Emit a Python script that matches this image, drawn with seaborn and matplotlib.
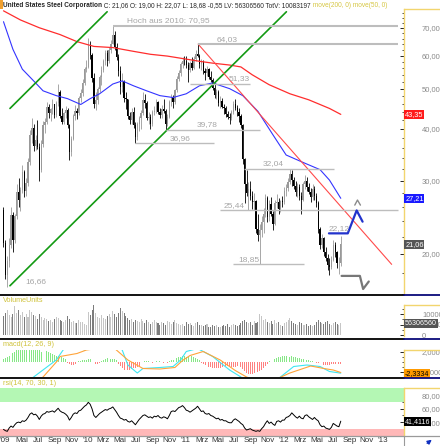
import numpy as np
import pandas as pd
import matplotlib
matplotlib.use("Agg")
import matplotlib.pyplot as plt
import matplotlib.transforms as mtransforms
from matplotlib.lines import Line2D
from matplotlib.patches import Rectangle
from matplotlib.ticker import NullFormatter
import seaborn as sns

sns.set_style("white")
plt.rcParams["font.family"] = ["Liberation Sans", "DejaVu Sans"]

# weekly candles United States Steel, Feb 2009 - Jul 2012
first_open = 25.5
closes = [
    21.2, 17.8, 19.2, 21.0, 24.8, 21.6, 24.6, 28.2, 27.0, 28.5,
    31.5, 28.4, 29.6, 33.2, 38.6, 40.2, 36.4, 37.6, 36.2, 31.8,
    36.8, 40.8, 41.6, 45.2, 43.6, 44.6, 45.8, 43.2, 46.2, 49.0,
    43.0, 41.6, 43.6, 44.5, 40.8, 35.2, 37.8, 43.0, 44.2, 43.6,
    47.4, 48.8, 51.5, 55.8, 56.5, 63.5, 60.2, 53.0, 46.0, 47.0,
    49.8, 53.2, 55.4, 58.2, 60.8, 58.4, 61.8, 64.2, 67.5, 63.0,
    59.5, 55.0, 50.5, 52.2, 47.6, 47.2, 43.0, 42.0, 44.0, 40.8,
    38.2, 41.0, 42.4, 43.8, 47.0, 46.2, 42.6, 42.8, 41.2, 44.0,
    44.2, 46.4, 44.0, 43.2, 44.6, 44.2, 41.2, 42.8, 46.5, 47.8,
    46.4, 49.6, 52.8, 54.6, 57.4, 58.4, 58.2, 57.0, 55.4, 57.6,
    56.2, 59.0, 60.6, 60.0, 57.2, 58.0, 55.0, 54.6, 55.8, 53.4,
    52.6, 50.2, 48.2, 49.0, 46.2, 46.8, 45.2, 45.0, 43.4, 42.8,
    42.4, 44.0, 46.0, 45.0, 44.0, 43.0, 40.8, 33.8, 29.5, 28.0,
    28.6, 27.6, 26.6, 26.8, 23.0, 22.2, 22.8, 23.8, 25.0, 27.2,
    24.5, 26.4, 25.0, 23.6, 26.5, 26.6, 25.6, 26.8, 26.6, 28.4,
    28.8, 29.8, 31.2, 30.2, 29.2, 28.2, 29.0, 27.6, 27.0, 29.4,
    30.0, 29.0, 28.2, 27.4, 28.6, 27.5, 26.5, 23.0, 21.0, 21.8,
    20.2, 19.5, 18.8, 18.6, 19.3, 21.0, 20.2, 19.0, 19.0, 21.06,
]
highs = [
    26.0, 21.6, 19.8, 21.8, 25.9, 25.2, 25.0, 29.4, 30.5, 29.0,
    32.7, 31.8, 30.5, 34.0, 39.7, 42.4, 41.0, 38.6, 42.0, 37.0,
    37.5, 41.7, 42.5, 46.5, 46.0, 45.0, 47.3, 46.0, 46.8, 51.3,
    49.5, 44.8, 44.0, 45.5, 44.8, 41.2, 38.5, 43.5, 45.6, 45.0,
    48.0, 50.0, 52.8, 56.5, 58.5, 66.3, 65.0, 61.0, 54.5, 49.0,
    50.5, 54.0, 56.6, 59.0, 62.0, 61.8, 63.0, 65.6, 70.95, 69.0,
    64.5, 60.5, 56.6, 54.5, 52.5, 49.0, 47.3, 44.0, 44.8, 45.2,
    41.5, 41.5, 43.0, 44.5, 49.0, 48.5, 46.8, 44.0, 43.5, 44.5,
    45.5, 47.3, 46.8, 45.0, 45.6, 47.3, 44.6, 43.5, 47.0, 48.5,
    48.2, 50.0, 53.5, 55.5, 58.0, 59.5, 60.0, 60.0, 58.0, 58.2,
    59.5, 59.8, 62.0, 64.03, 60.5, 58.8, 58.6, 56.0, 56.6, 56.2,
    55.0, 53.0, 51.5, 50.0, 49.5, 48.0, 47.5, 46.0, 45.3, 44.2,
    43.8, 44.5, 46.6, 47.3, 45.6, 45.0, 43.5, 41.0, 34.0, 31.8,
    29.8, 30.0, 28.4, 28.0, 27.0, 24.9, 23.6, 24.6, 25.8, 27.8,
    27.6, 27.0, 27.4, 25.4, 27.0, 27.8, 27.2, 27.0, 27.5, 28.9,
    29.4, 30.4, 32.04, 31.8, 30.6, 29.9, 29.6, 29.4, 28.2, 29.8,
    31.0, 30.6, 29.6, 28.8, 29.4, 29.2, 28.0, 26.8, 23.2, 22.3,
    22.0, 20.8, 20.0, 19.5, 19.8, 21.6, 21.3, 20.3, 19.7, 22.07,
]
lows = [
    20.8, 17.4, 16.66, 18.6, 20.6, 20.2, 21.2, 24.2, 26.0, 25.3,
    28.0, 27.4, 27.6, 29.2, 32.8, 37.0, 35.4, 35.6, 35.8, 30.0,
    31.5, 36.2, 39.0, 41.2, 42.4, 41.8, 43.5, 42.4, 42.8, 45.5,
    42.5, 41.0, 41.0, 42.6, 40.2, 33.6, 34.4, 37.5, 42.0, 42.2,
    43.2, 46.5, 48.0, 51.0, 54.8, 56.0, 59.0, 52.0, 44.8, 44.5,
    45.8, 49.0, 51.0, 54.8, 57.0, 56.6, 57.8, 61.0, 63.9, 62.0,
    58.5, 53.5, 48.5, 49.0, 46.5, 44.6, 42.2, 41.0, 41.2, 40.2,
    36.96, 37.5, 39.5, 40.0, 43.2, 45.0, 42.0, 41.0, 40.0, 40.6,
    43.2, 43.8, 43.5, 42.5, 42.6, 43.8, 39.78, 40.6, 42.5, 45.5,
    45.0, 46.0, 49.0, 52.2, 53.5, 56.0, 57.0, 56.2, 52.0, 54.8,
    55.5, 55.8, 58.2, 59.5, 56.0, 55.5, 54.2, 52.5, 53.5, 52.8,
    52.0, 49.5, 47.5, 47.3, 45.5, 45.0, 44.8, 43.5, 42.8, 42.2,
    41.0, 42.0, 43.5, 44.5, 43.0, 41.5, 40.2, 33.0, 26.5, 27.5,
    25.44, 27.0, 25.6, 25.5, 22.4, 21.5, 18.85, 22.0, 22.5, 24.5,
    23.8, 24.0, 24.6, 22.8, 23.5, 25.8, 25.0, 25.2, 26.0, 26.3,
    27.6, 28.4, 29.5, 29.2, 28.6, 27.6, 27.4, 27.0, 25.0, 26.8,
    28.6, 28.4, 27.8, 26.6, 27.0, 27.0, 26.0, 22.5, 20.5, 20.6,
    19.8, 19.2, 18.3, 17.8, 18.4, 19.2, 19.6, 18.5, 17.9, 18.68,
]
# weekly volume in millions of shares
volumes_m = [
    92, 104, 118, 96, 88, 102, 140, 105, 118,
    96, 110, 88, 102, 85, 120, 108, 95, 90, 78,
    98, 84, 72, 80, 74, 66, 70, 62, 75, 88, 82, 70, 68, 64, 72,
    90, 78, 62, 66, 55, 58, 70, 64, 60, 52, 46,
    110, 95, 120, 142, 105, 88, 80,
    96, 82, 74, 90, 98, 85, 112, 100, 88, 106, 128, 115, 104, 92,
    80, 70, 76, 62, 72, 68, 60, 78, 66, 58, 70, 62, 54, 60, 72, 64, 56, 50, 62, 58, 48, 66, 60, 54,
    62, 70, 58, 52, 48, 54, 44,
    60, 52, 56, 48, 44, 58, 62, 50, 46, 42, 48, 54, 40, 38, 46, 44, 50, 40, 36, 42, 48, 45, 52, 40, 46,
    54, 48, 42, 50, 58, 68, 72, 62, 56, 60, 50, 66, 58, 62,
    102, 92, 70, 78, 64, 58, 66, 54, 72,
    56, 60, 48, 44, 58, 62, 70, 80, 68, 58, 52, 48, 62, 55, 50,
    46, 52, 44, 48, 42, 50, 62, 70, 64, 58, 54, 60, 66, 52, 48, 58, 62, 54, 50, 56.3,
]
macd_hist = [
    0.5, 0.8, 1.0, 1.2, 1.5, 1.8,
    2.0, 2.3, 2.6, 2.8, 3.0, 2.9, 2.7, 2.8, 3.0, 3.1, 2.9, 2.6, 2.5, 2.4,
    2.0, 1.9, 2.0, 2.1, 2.0, 1.8, 1.6,
    1.3, 1.2, 1.1, 1.2, 1.0, 0.8, 0.5,
    -0.2, -0.5, -0.7, -0.6, -0.4, -0.2, 0.1,
    0.2, 0.3, 0.3, 0.4, 0.6, 0.5, 0.2,
    -0.3, -0.5, -0.4, -0.2,
    0.2, 0.4, 0.6, 0.7, 0.7, 0.6, 0.5, 0.6, 0.3,
    -0.4, -0.9, -1.3, -1.6, -1.8, -1.7, -1.6, -1.5, -1.3, -1.2, -1.0, -0.8,
    -0.4, -0.2, 0.1, 0.2, 0.1, -0.1, -0.2, -0.1, 0.1, 0.2, 0.1, -0.1, -0.2, -0.1, -0.2, 0.1, 0.3, 0.4,
    0.6, 0.8, 0.9, 1.0, 1.1, 1.1, 1.0, 0.9, 1.0, 1.1, 0.9, 0.8, 0.6, 0.4,
    -0.2, -0.4, -0.6, -0.8, -1.0, -1.1, -1.2, -1.3, -1.2, -1.3, -1.2, -1.1, -1.0, -0.9, -0.8, -0.9,
    -1.0, -1.1, -1.0, -0.8, -0.6,
    -1.0, -1.4, -1.8, -2.2, -2.4, -2.5, -2.4, -2.3, -2.2, -2.1, -1.9, -1.6, -1.2, -0.8, -0.4,
    0.1, 0.3, 0.5, 0.6, 0.8, 0.9, 1.0, 1.1, 1.1, 1.2, 1.1, 1.0, 1.1, 1.0, 0.9, 0.8, 0.7, 0.6,
    0.6, 0.5, 0.4, 0.3, 0.2, 0.1,
    -0.1, -0.2, -0.3, -0.4, -0.5, -0.6, -0.6, -0.7, -0.6, -0.5, -0.5, -0.4, -0.4, -0.5, -0.4,
]
rsi_values = [
    29, 27, 26, 31, 34, 32, 36, 39, 40, 39,
    42, 41, 43, 47, 52, 54, 51, 52, 49, 44,
    49, 52, 53, 56, 55, 56, 57, 55, 58, 61,
    57, 55, 54, 52, 49, 43, 47, 52, 54, 53,
    57, 58, 61, 64, 66, 70, 67, 60, 50, 47,
    50, 53, 55, 57, 59, 58, 60, 61, 63, 59,
    55, 50, 46, 45, 43, 44, 41, 40, 42, 39,
    36, 40, 44, 47, 50, 51, 49, 47, 48, 46,
    49, 48, 50, 47, 46, 48, 47, 45, 50, 56,
    57, 56, 59, 62, 63, 65, 62, 58, 57, 55,
    57, 59, 61, 64, 60, 56, 57, 53, 52, 53,
    50, 49, 47, 45, 46, 43, 44, 42, 42, 40,
    39, 39, 43, 45, 43, 41, 38, 36, 31, 28,
    29, 30, 28, 27, 26, 27, 26, 30, 33, 38,
    42, 38, 40, 37, 35, 41, 42, 40, 43, 43,
    47, 48, 50, 54, 51, 48, 46, 49, 46, 45,
    50, 51, 48, 46, 44, 47, 44, 42, 36, 33,
    34, 31, 30, 29, 32, 38, 36, 34, 33, 41.41,
]
# moving averages and macd lines, read at selected weeks
ma200_week = [0, 9, 19, 30, 39, 48, 58, 69, 78, 87, 94, 104, 111, 120, 126, 132, 141, 152, 162, 173, 179]
ma200_vals = [77.0, 73.2, 70.1, 67.5, 64.9, 63.2, 62.8, 61.5, 60.5, 59.9, 59.2, 58.2, 57.6, 57.0, 56.4,
              54.0, 51.1, 48.6, 47.0, 44.8, 43.35]
ma50_week = [0, 5, 10, 16, 21, 28, 34, 41, 46, 51, 58, 63, 69, 76, 83, 90, 97, 104, 111, 120, 127,
             135, 143, 150, 159, 168, 173, 179]
ma50_vals = [72.5, 62.2, 55.7, 52.2, 49.4, 48.1, 47.3, 45.8, 47.3, 48.6, 51.3, 52.2, 50.8, 49.4, 48.1,
             47.6, 48.6, 50.8, 51.6, 50.0, 48.1, 44.1, 38.7, 34.6, 33.2, 31.9, 30.1, 27.21]
macd_week = [0, 9, 16, 22, 28, 32, 36, 41, 43, 46, 51, 58, 63, 66, 71, 74, 83, 90, 94, 97, 103, 111,
             120, 126, 134, 142, 147, 154, 161, 168, 173, 179]
macd_line = [-6.0, -5.0, -3.1, -1.4, 0.3, 2.5, 3.2, 2.6, 2.3, 3.0, 4.0, 3.5, 2.3, -0.7, -2.3, -1.4,
             -1.2, -1.0, 0.3, 2.0, 2.6, 1.0, -1.7, -3.1, -5.5, -4.5, -3.1, -1.0, -0.7, -1.0, -2.0, -2.33]
signal_week = [0, 9, 21, 29, 30, 39, 44, 50, 55, 59, 66, 74, 83, 91, 95, 99, 106, 115, 123, 129, 139,
               152, 163, 170, 175, 179]
signal_line = [-7.0, -6.0, -3.1, 0.3, 1.0, 1.6, 2.3, 2.6, 2.5, 2.6, 0.3, -1.4, -1.5, -1.2, 0.2, 1.2,
               2.0, 0.3, -1.8, -3.1, -4.5, -2.3, -0.9, -1.4, -1.7, -2.2]

# drawing tools on the price chart
green_top_dates, green_top_prices = ["2009-03-19", "2010-03-15"], [44.8, 76.6]
green_trend_dates, green_trend_prices = ["2009-03-19", "2012-01-10"], [16.75, 76.6]
red_trend_dates, red_trend_prices = ["2011-02-16", "2013-02-04"], [64.03, 18.86]
level_prices = [70.95, 64.03, 51.33, 39.78, 36.96, 32.04, 25.44, 18.85]
level_starts = ["2010-04-05", "2011-02-15", "2011-01-16", "2010-10-18", "2010-06-28", "2011-08-04",
                "2011-05-08", "2011-06-25"]
level_ends = ["2013-02-27", "2013-02-27", "2011-08-28", "2011-10-04", "2011-04-16", "2012-07-06",
              "2013-02-27", "2012-03-14"]
label_texts = ["Hoch aus 2010: 70,95", "64,03", "51,33", "39,78", "36,96", "32,04", "25,44", "18,85",
               "22,12", "16,66"]
label_dates = ["2010-05-28", "2011-04-27", "2011-06-10", "2011-02-11", "2010-11-03", "2011-10-15",
               "2011-05-23", "2011-07-14", "2012-06-16", "2009-05-14"]
label_prices = [70.95, 64.03, 51.33, 39.78, 36.96, 32.04, 25.44, 18.85, 22.4, 16.66]
bull_dates, bull_prices = ["2012-06-16", "2012-08-25", "2012-09-27", "2012-10-19"], [22.4, 22.4, 25.44, 23.9]
caret_dates, caret_prices = ["2012-09-20", "2012-09-30", "2012-10-11"], [26.2, 26.95, 26.2]
bear_dates, bear_prices = ["2012-08-02", "2012-10-09", "2012-10-21", "2012-11-11"], [17.69, 17.69, 16.45, 17.15]

tick_dates = ["2009-03-01", "2009-05-01", "2009-07-01", "2009-09-01", "2009-11-01",
              "2010-01-01", "2010-03-01", "2010-05-01", "2010-07-01", "2010-09-01", "2010-11-01",
              "2011-01-01", "2011-03-01", "2011-05-01", "2011-07-01", "2011-09-01", "2011-11-01",
              "2012-01-01", "2012-03-01", "2012-05-01", "2012-07-01", "2012-09-01", "2012-11-01",
              "2013-01-01"]
tick_labels = ["'09", "Mai", "Jul", "Sep", "Nov", "'10", "Mrz", "Mai", "Jul", "Sep", "Nov",
               "'11", "Mrz", "Mai", "Jul", "Sep", "Nov", "'12", "Mrz", "Mai", "Jul", "Sep", "Nov", "'13"]

dates = pd.date_range("2009-02-23", periods=len(closes), freq="W-MON")
df = pd.DataFrame({
    "date": dates,
    "open": [first_open] + closes[:-1],
    "high": highs,
    "low": lows,
    "close": closes,
    "volume": volumes_m,
    "hist": macd_hist,
    "rsi": rsi_values,
})
up = (df["close"] >= df["open"]).to_numpy()

W, H = 440, 446
fig = plt.figure(figsize=(W / 100, H / 100), dpi=100)


def box(top, bottom, right=403.5):
    return [0, 1 - bottom / H, right / W, (bottom - top) / H]


ax = fig.add_axes(box(9.3, 294))
axv = fig.add_axes(box(305, 336), sharex=ax)
axm = fig.add_axes(box(349.5, 377), sharex=ax)
axr = fig.add_axes(box(388.3, 435.5), sharex=ax)

# price candles
ax.set_yscale("log")
candle_col = np.where(up, "#999999", "#000000")
ax.vlines(df["date"], df["low"], df["high"], colors=candle_col, linewidth=0.6)
body_lo = df[["open", "close"]].min(axis=1)
body_hi = df[["open", "close"]].max(axis=1)
ax.bar(df["date"], body_hi - body_lo, bottom=body_lo, width=4.6, color=candle_col, linewidth=0)

sns.lineplot(x=dates[ma200_week], y=ma200_vals, ax=ax, color="#ff2d2d", linewidth=0.9)
sns.lineplot(x=dates[ma50_week], y=ma50_vals, ax=ax, color="#3434ff", linewidth=0.8)

ax.plot(pd.to_datetime(green_top_dates), green_top_prices, color="#139a13", lw=1.2)
ax.plot(pd.to_datetime(green_trend_dates), green_trend_prices, color="#139a13", lw=1.2)
ax.plot(pd.to_datetime(red_trend_dates), red_trend_prices, color="#ff4a4a", lw=0.8)
for p, s, e in zip(level_prices, level_starts, level_ends):
    lw = 1.5 if p > 60 else 1.0
    ax.hlines(p, pd.Timestamp(s), pd.Timestamp(e), color="#bdbdbd", lw=lw)
for t, d, p in zip(label_texts, label_dates, label_prices):
    ax.annotate(t, xy=(pd.Timestamp(d), p), xytext=(0, 1.0), textcoords="offset points",
                ha="left", va="bottom", fontsize=6, color="#a6a6a6")
ax.plot(pd.to_datetime(bull_dates), bull_prices, color="#2233cc", lw=1.6)
ax.plot(pd.to_datetime(caret_dates), caret_prices, color="#8a8a8a", lw=1.0)
ax.plot(pd.to_datetime(bear_dates), bear_prices, color="#777777", lw=1.6)

# volume
vol_col = np.where(up, "#c6c6c6", "#7c7c7c")
axv.bar(df["date"], df["volume"], width=3.8, color=vol_col, linewidth=0)

# macd
hist_col = np.where(df["hist"] >= 0, "#86e886", "#ff8080")
axm.bar(df["date"], df["hist"], width=3.2, color=hist_col, linewidth=0)
sns.lineplot(x=dates[macd_week], y=macd_line, ax=axm, color="#3ee6f2", linewidth=0.8)
sns.lineplot(x=dates[signal_week], y=signal_line, ax=axm, color="#ffa43a", linewidth=0.8)

# rsi
axr.axhspan(70, 100, color="#b4f7b4", lw=0)
axr.axhspan(0, 30, color="#ffb8b8", lw=0)
sns.lineplot(x=dates, y=rsi_values, ax=axr, color="black", linewidth=0.7)


def style_panel(a, ticks, labels, ylim, minor=None):
    a.set_ylim(*ylim)
    a.yaxis.tick_right()
    a.set_yticks(ticks)
    a.set_yticklabels(labels)
    if minor is not None:
        a.set_yticks(minor, minor=True)
        a.yaxis.set_minor_formatter(NullFormatter())
    a.tick_params(axis="y", which="major", direction="in", length=3, width=0.6, color="black",
                  labelsize=5.5, labelcolor="#8a8a8a", pad=13.3)
    a.tick_params(axis="y", which="minor", direction="in", length=1.8, width=0.5, color="black")
    a.tick_params(axis="x", length=0, labelbottom=False)
    for s in ("top", "left", "bottom"):
        a.spines[s].set_visible(False)
    a.spines["right"].set_color("#f2d56e")
    a.spines["right"].set_linewidth(1.0)
    a.set_xlabel("")
    a.set_ylabel("")


style_panel(ax, [20, 30, 40, 50, 60, 70], ["20,00", "30,00", "40,00", "50,00", "60,00", "70,00"],
            (16.39, 77.66), minor=np.arange(16, 78, 2))
style_panel(axv, [0, 50, 100], ["0", "50000000", "100000000"], (-4.76, 142.86), minor=[25, 75, 125])
style_panel(axm, [-2, 2], ["-2,0000", "2,0000"], (-3.1, 2.4), minor=[-1, 0, 1])
style_panel(axr, [40, 60, 80], ["40,0000", "60,0000", "80,0000"], (19.7, 91.2), minor=[30, 50, 70])

ax.set_xlim(pd.Timestamp("2009-02-10"), pd.Timestamp("2013-03-20"))
axr.set_xticks(pd.to_datetime(tick_dates))
axr.set_xticklabels(tick_labels)
axr.tick_params(axis="x", length=0, labelbottom=True, labelsize=5.8, labelcolor="#333333", pad=1)


def tag(a, value, text, face, fg="white", size=5.1):
    trans = mtransforms.blended_transform_factory(a.transAxes, a.transData)
    a.text(1.004, value, text, transform=trans, ha="left", va="center", fontsize=size, color=fg,
           bbox=dict(boxstyle="square,pad=0.12", fc=face, ec="none"), clip_on=False, zorder=10)


tag(ax, 43.35, "43,35", "#ff1a1a", size=5.3)
tag(ax, 27.21, "27,21", "#1a1aff", size=5.3)
tag(ax, 21.06, "21,06", "#555555", size=5.3)
tag(axv, 56.3, "56306560", "#555555")
tag(axm, -2.3334, "-2,3334", "#ff9a00", fg="black")
tag(axr, 41.41, "41,4116", "#000000")

# header line
narrow = ["Liberation Sans Narrow", "Liberation Sans", "DejaVu Sans"]
t1 = fig.text(3 / W, 1 - 5.5 / H, "United States Steel Corporation", fontsize=4.7, fontweight="bold",
              family=narrow, va="center", ha="left")
t2 = ax.annotate(" C: 21,06 O: 19,00 H: 22,07 L: 18,68 -0,55 LV: 56306560 TotV: 10083197",
                 xy=(1, 0), xycoords=t1, va="bottom", ha="left", fontsize=4.7, family=narrow,
                 annotation_clip=False)
ax.annotate(" move(200, 0) move(50, 0)", xy=(1, 0), xycoords=t2, va="bottom", ha="left",
            fontsize=4.7, family=narrow, color="#d6c642", annotation_clip=False)
for y, txt in [(300.5, "VolumeUnits"), (344, "macd(12, 26, 9)"), (383.5, "rsi(14, 70, 30, 1)")]:
    fig.text(3 / W, 1 - y / H, txt, fontsize=5.2, family=narrow, color="#cfc23a", va="center")

# panel frames
for y in (294.6, 338.5, 378.3):
    fig.add_artist(Line2D([0, 403.5 / W], [1 - y / H] * 2, color="black", lw=1.3))
    fig.add_artist(Line2D([403.5 / W, 1], [1 - y / H] * 2, color="#0a0a7a", lw=1.3))
fig.add_artist(Line2D([0, 1], [1 - 436.2 / H] * 2, color="#9a9a9a", lw=0.9))
for y in (9.3, 305, 349.5, 388.3):
    fig.add_artist(Line2D([403.5 / W, 1], [1 - y / H] * 2, color="#f2d56e", lw=1.0))
fig.add_artist(Line2D([403.5 / W] * 2, [0, 1 - 436.2 / H], color="#9a9a9a", lw=0.8))
fig.add_artist(Rectangle((0, 1 - 9 / H), 3 / W, 9 / H, transform=fig.transFigure, color="#f0a030", lw=0))
ax.annotate("", xy=(434 / W, 1 - 438 / H), xytext=(425 / W, 1 - 445 / H), xycoords="figure fraction",
            arrowprops=dict(arrowstyle="-|>", color="#1030c0", lw=1.0, mutation_scale=6))

fig.savefig("out.png", dpi=100)
